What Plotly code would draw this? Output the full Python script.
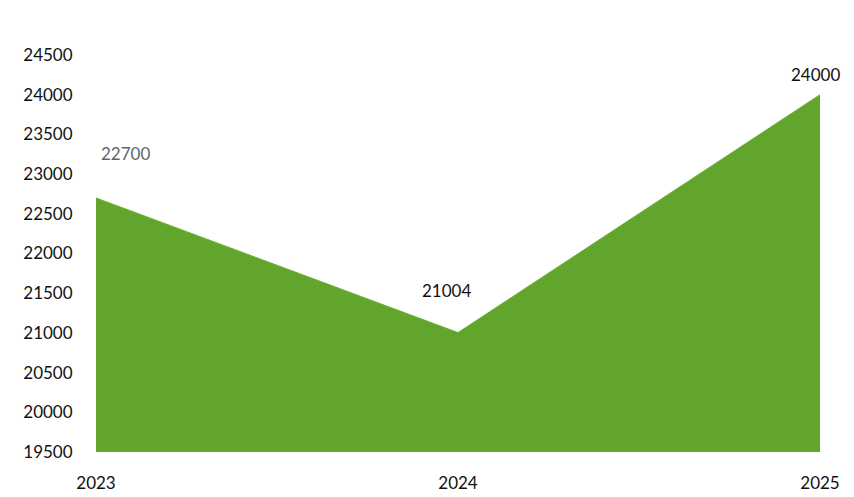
import plotly.graph_objects as go

years = [2023, 2024, 2025]
values = [22700, 21004, 24000]
y_ticks = [19500, 20000, 20500, 21000, 21500, 22000, 22500, 23000, 23500, 24000, 24500]

label_colors = ["#5b6770", "#111111", "#111111"]
label_shift = [(29, 44), (-12, 42), (-5, 20)]

fig = go.Figure()
fig.add_trace(go.Scatter(
    x=years,
    y=values,
    mode="lines",
    fill="tozeroy",
    fillcolor="#62a52c",
    line=dict(color="#6cb035", width=1),
    hoverinfo="x+y",
))

for yr, val, col, (dx, dy) in zip(years, values, label_colors, label_shift):
    fig.add_annotation(
        x=yr, y=val, text=str(val), showarrow=False,
        xshift=dx, yshift=dy, font=dict(size=17, color=col),
    )

fig.update_layout(
    width=854,
    height=497,
    margin=dict(l=88, r=42, t=47, b=53),
    paper_bgcolor="white",
    plot_bgcolor="white",
    font=dict(family="Lato, Open Sans, sans-serif", size=17, color="#111111"),
    showlegend=False,
)
fig.update_xaxes(
    range=[2023, 2025], tickvals=years, ticktext=[str(y) for y in years],
    showgrid=False, zeroline=False, showline=False,
    ticks="outside", ticklen=16, tickcolor="rgba(0,0,0,0)",
)
fig.update_yaxes(
    range=[19500, 24500], tickvals=y_ticks, showgrid=False, zeroline=False,
    showline=False, ticks="outside", ticklen=19, tickcolor="rgba(0,0,0,0)",
    tickformat="d",
)

fig.write_html("out.html")
